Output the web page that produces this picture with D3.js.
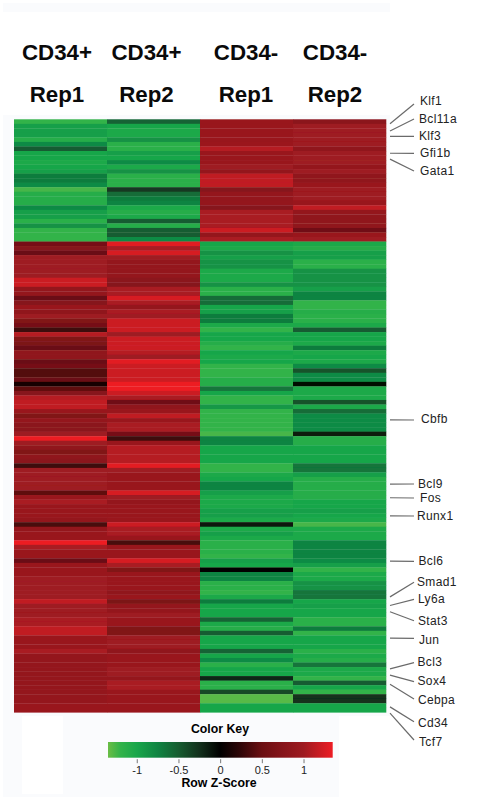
<!DOCTYPE html>
<html lang="en">
<meta charset="utf-8"/>
<script src="https://d3js.org/d3.v7.min.js"></script>
<title>CD34 heatmap</title>
<style>
    html, body { margin: 0; background: #fff; }
    svg { display: block; }
    text { font-family: "Liberation Sans", Arial, sans-serif; }
</style>
<body>
<div id="chartDiv"></div>

<script>

    // row z-scores, one array per sample, top row first
    const cd34PlusRep1 = [
        -1.2,-.95,-.95,-.95,-1.1,-.8,-.5,-1,-1,-1.05,
        -1,-.95,-.7,-.7,-.8,-1.25,-1.1,-1.1,-1.1,-.8,
        -.95,-.95,-1.15,-.85,-1.2,-1.2,-1.2,.6,.75,.5,
        1,1,1,1,1,1.2,1.2,.9,.9,.5,
        .75,.95,.85,1,.7,.6,.3,1.1,.7,.65,
        .5,.85,.85,.5,.6,.4,.4,.5,.1,.45,
        .75,1.1,1.15,1.15,.95,.7,.9,.8,.8,1,
        1.35,1,.85,.7,.85,.8,.3,1,1,1,
        1,1,.45,.95,1.05,.95,.95,.95,.9,.35,
        .9,.95,.95,1.35,1.05,.95,.95,.5,.95,.95,
        .95,1,1,1,1,1,1.15,1,1,1,
        1.05,1.05,1.15,1.15,.95,.95,.95,1.05,.9,.9,
        .9,.9,.9,.9,.9,.9,.9,.9,.9,.95,.95
    ];
    const cd34PlusRep2 = [
        -.55,-1,-1.05,-1.05,-.85,-1.15,-1.15,-.95,-1,-.8,
        -1.05,-.85,-1.15,-1.15,-1.15,-.3,-.6,-.7,-.75,-1.05,
        -1.1,-1.05,-.5,-1.1,-.5,-.5,-.8,1.3,1.05,1.25,
        1,.9,.9,.9,.9,.8,.75,1.05,1.05,1.25,
        1.05,.9,1.05,1,1.2,1.2,1.2,1,1.2,1.2,
        1.2,1.1,1,1.3,1.2,1.2,1.2,1.2,1.35,1.35,
        1.2,1.05,.55,.85,.95,1.15,.95,1.05,1.05,.6,
        .3,.95,1.1,1.1,1.1,1.1,1.3,1,.95,.95,
        .95,.95,1.25,1,.9,.95,.95,.95,.95,1.2,
        1.05,1.05,.95,.35,.95,.95,.95,1.25,1.05,.7,
        .95,.95,.95,.95,.85,.95,.65,.9,.9,1,
        .95,.95,.7,.7,1,1,1,.85,.95,.95,
        .95,1,1,.9,1.05,1.05,.95,.95,.95,.95,.95
    ];
    const cd34MinusRep1 = [
        .95,.95,.95,.95,.95,.97,1.1,.95,.95,.95,
        1,.9,1.15,1.15,1.15,.75,.9,.9,.9,.75,
        1.05,1.05,1.05,1.05,1.2,.9,1.05,-1,-1.05,-.85,
        -.95,-.85,-.85,-1.05,-1.05,-1.05,-.85,-1.15,-1.15,-.6,
        -.6,-1,-.95,-.7,-.7,-1.05,-1.2,-1,-1,-1.1,
        -1.2,-1,-1.05,-1,-1.2,-1.2,-1.2,-1.1,-1.1,-.65,
        -1,-1.2,-1.2,-.9,-1.2,-1.2,-1.2,-1.2,-1.2,-1.25,
        -.75,-.75,-1,-1,-1,-1,-1.2,-1.2,-1.05,-1,
        -.75,-.75,-.95,-1.05,-1.05,-1.05,-.95,-.95,-1.05,-.1,
        -1.05,-.95,-1.05,-1.15,-1.15,-1.15,-1.2,-.95,-1,0,
        -.75,-.75,-1.15,-1.15,-1.2,-1.05,-.7,-1,-1,-1,
        -.55,-1.05,-1.1,-.5,-1,-1,-1,-.55,-1,-.8,
        -1.15,-1,-1,-.2,-1.15,-1.15,-.4,-1.3,-1.3,-1,-1
    ];
    const cd34MinusRep2 = [
        .8,1,1,1,1,1,.85,1,1,1,
        .9,1,.85,.85,.95,1,1,1,.95,1.15,
        .9,.85,.85,.85,.55,.95,1,-1.05,-1.1,-.95,
        -.95,-1.15,-1.15,-.85,-.85,-.85,-.85,-.95,-.75,-.75,
        -1.2,-1.2,-1.1,-1.15,-1.15,-1.05,-.5,-1,-1,-1.05,
        -.7,-1.05,-1,-1.05,-.8,-.45,-.8,-.8,-.05,-1.05,
        -1.05,-1.05,-.45,-1.05,-.6,-.8,-.8,-.8,-.8,-.15,
        -1.1,-1.1,-1,-1,-1,-1,-.65,-.65,-.95,-1.1,
        -1.1,-1.1,-1.1,-1.1,-1,-1,-.95,-1,-1.05,-1.25,
        -1.05,-1.05,-1.05,-.75,-.75,-.75,-.75,-.8,-.95,-1.2,
        -1.05,-1.05,-.85,-.85,-.65,-.65,-1,-.95,-1,-1,
        -1.15,-1.15,-.7,-1.2,-1,-1,-1,-1.15,-1.05,-1.1,
        -.65,-1.05,-1.05,-1.2,-.5,-1,-1.2,-.25,-.25,-1,-1
    ];
    const columnValues = [cd34PlusRep1, cd34PlusRep2, cd34MinusRep1, cd34MinusRep2];

    const columnTop = ["CD34+", "CD34+", "CD34-", "CD34-"];
    const columnBottom = ["Rep1", "Rep2", "Rep1", "Rep2"];

    // annotated genes and the (estimated) heatmap row each leader line points at
    const genes = ["Klf1","Bcl11a","Klf3","Gfi1b","Gata1","Cbfb","Bcl9","Fos","Runx1","Bcl6",
        "Smad1","Ly6a","Stat3","Jun","Bcl3","Sox4","Cebpa","Cd34","Tcf7"];
    const geneRows = [1,2.6,3.75,7.5,8.8,66.4,80.6,83.6,87.6,97.6,
        105.5,107.4,108.8,114.6,121.4,122.8,124.8,129.8,131.2];

    const keyTicks = [-1,-0.5,0,0.5,1];
    const keyExtent = [-1.345,1.35];
    const colorStops = [-1.345,-1.2,-1,-0.75,-0.5,-0.25,0,0.25,0.5,0.75,1,1.35];
    const colorRange = ["#6abd45","#33b34a","#18a64a","#0f8442","#165c30","#12301c","#000000",
        "#300608","#6b0f12","#86141a","#9e1a20","#ed1c24"];

    // layout, not data: where the label column sits next to the heatmap
    const geneLabelX = [420,419,419,420,420,421,418,420,417,418.5,417,418,418,419,417.5,417.5,418,418,419];
    const geneLabelY = [101,119,136,153,171,419,484,498,516,561,582,599,621,640,662,681,700,723,742];
    const leaderEndY = [104,119,136.3,153.3,171,420,484,498,516,561.3,582.3,599.3,620.7,638.3,662.7,681.7,699,721.7,740];

    const width = 493;
    const height = 800;
    const heat = {left: 14, right: 386, top: 119.3, bottom: 712.3};
    const key = {left: 108, right: 332.7, top: 742, bottom: 757.7};

    const svg = d3.select("#chartDiv").append("svg")
        .attr("width", width)
        .attr("height", height)
        .attr("viewBox", [0, 0, width, height]);

    // pale scan background with its white patches
    const panels = [
        [3, 3, 387, 794, "#fafbfd"],
        [3, 12, 387, 103, "#ffffff"],
        [390, 3, 103, 794, "#ffffff"],
        [22, 716, 41, 78, "#ffffff"],
        [339, 716, 51, 81, "#ffffff"],
        [390, 231, 24, 29, "#ffffff"]
    ];
    svg.selectAll("rect.panel").data(panels).join("rect")
        .attr("class", "panel")
        .attr("x", d => d[0]).attr("y", d => d[1])
        .attr("width", d => d[2]).attr("height", d => d[3])
        .attr("fill", d => d[4]);

    const defs = svg.append("defs");
    defs.append("filter").attr("id", "soften")
        .attr("x", "-2%").attr("y", "-2%").attr("width", "104%").attr("height", "104%")
        .append("feGaussianBlur").attr("stdDeviation", "0.3 0.55");

    const colorScale = d3.scaleLinear().domain(colorStops).range(colorRange).clamp(true);

    // heatmap
    const nRows = cd34PlusRep1.length;
    const xScale = d3.scaleBand().domain(d3.range(columnValues.length)).range([heat.left, heat.right]);
    const yScale = d3.scaleLinear().domain([0, nRows]).range([heat.top, heat.bottom]);

    svg.append("g").attr("filter", "url(#soften)")
        .selectAll("g").data(columnValues).join("g")
        .attr("transform", (d, i) => `translate(${xScale(i)},0)`)
        .selectAll("rect").data(d => d).join("rect")
        .attr("y", (d, i) => yScale(i))
        .attr("width", xScale.bandwidth() + 0.3)
        .attr("height", (d, i) => yScale(i + 1) - yScale(i) + 0.3)
        .attr("fill", d => colorScale(d));

    // column headers
    const headers = svg.append("g").attr("font-weight", "bold").attr("font-size", 22.3)
        .attr("text-anchor", "middle").attr("fill", "#0a0a0a");
    const headerX = [57, 146.5, 246, 335];
    headers.selectAll("text.top").data(columnTop).join("text")
        .attr("class", "top")
        .attr("x", (d, i) => headerX[i]).attr("y", 60)
        .text(d => d);
    headers.selectAll("text.bottom").data(columnBottom).join("text")
        .attr("class", "bottom")
        .attr("x", (d, i) => headerX[i]).attr("y", 102)
        .text(d => d);

    // gene leaders and labels
    const geneGroup = svg.append("g");
    geneGroup.selectAll("line").data(genes).join("line")
        .attr("x1", 390)
        .attr("x2", 414)
        .attr("y1", (d, i) => yScale(geneRows[i]))
        .attr("y2", (d, i) => leaderEndY[i])
        .attr("stroke", "#6a6a6a")
        .attr("stroke-width", 1.2);
    geneGroup.selectAll("text").data(genes).join("text")
        .attr("x", (d, i) => geneLabelX[i])
        .attr("y", (d, i) => geneLabelY[i])
        .attr("dy", "0.35em")
        .attr("font-size", 12)
        .attr("letter-spacing", 0.35)
        .attr("fill", "#222")
        .text(d => d);

    // colour key
    const keyScale = d3.scaleLinear().domain(keyExtent).range([key.left, key.right]);
    const gradient = defs.append("linearGradient").attr("id", "keyGradient");
    gradient.selectAll("stop").data(colorStops).join("stop")
        .attr("offset", d => (d - keyExtent[0]) / (keyExtent[1] - keyExtent[0]))
        .attr("stop-color", d => colorScale(d));

    svg.append("rect")
        .attr("x", key.left).attr("y", key.top)
        .attr("width", key.right - key.left).attr("height", key.bottom - key.top)
        .attr("fill", "url(#keyGradient)");

    const keyAxis = svg.append("g")
        .attr("transform", `translate(0,${key.bottom + 1.5})`)
        .call(d3.axisBottom(keyScale).tickValues(keyTicks).tickSize(4).tickPadding(3).tickFormat(d => String(d)));
    keyAxis.select(".domain").remove();
    keyAxis.selectAll("line").attr("stroke", "#777").attr("stroke-width", 1);
    keyAxis.selectAll("text")
        .attr("font-family", '"Liberation Sans", Arial, sans-serif')
        .attr("font-size", 11)
        .attr("fill", "#222");

    svg.append("text")
        .attr("x", 220).attr("y", 733)
        .attr("text-anchor", "middle").attr("font-weight", "bold").attr("font-size", 12.3)
        .text("Color Key");
    svg.append("text")
        .attr("x", 219).attr("y", 787)
        .attr("text-anchor", "middle").attr("font-weight", "bold").attr("font-size", 12.3)
        .text("Row Z-Score");

</script>
</body>
</html>
